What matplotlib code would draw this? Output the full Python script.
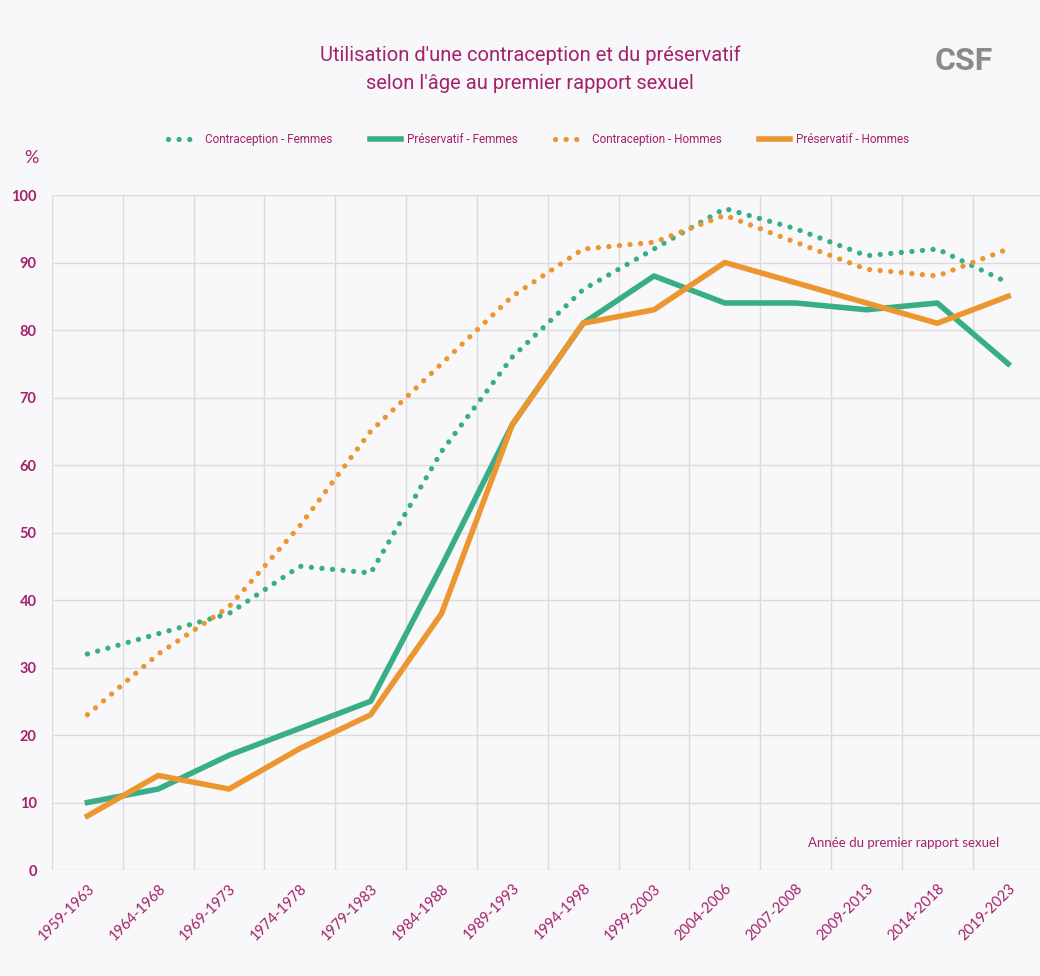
import numpy as np
import matplotlib.pyplot as plt

periods = ["1959-1963", "1964-1968", "1969-1973", "1974-1978", "1979-1983",
           "1984-1988", "1989-1993", "1994-1998", "1999-2003", "2004-2006",
           "2007-2008", "2009-2013", "2014-2018", "2019-2023"]
contra_femmes = [32, 35, 38, 45, 44, 62, 76, 86, 92, 98, 95, 91, 92, 87]
preserv_femmes = [10, 12, 17, 21, 25, 45, 66, 81, 88, 84, 84, 83, 84, 75]
contra_hommes = [23, 32, 39, 51, 65, 75, 85, 92, 93, 97, 93, 89, 88, 92]
preserv_hommes = [8, 14, 12, 18, 23, 38, 66, 81, 83, 90, 87, 84, 81, 85]

green = "#38ae86"
orange = "#ec9630"
magenta = "#a3226b"
bg = "#f8f7fa"
narrow = ["Roboto", "DejaVu Sans"]
body = ["Lato", "DejaVu Sans"]

fig = plt.figure(figsize=(10.4, 9.76), dpi=100, facecolor=bg)
ax = fig.add_axes([0.05, 0.1086, 0.9534, 0.6916])
ax.set_facecolor(bg)

x = np.arange(len(periods))
dots = (0, (0.01, 2.0))
ax.plot(x, contra_femmes, linestyle=dots, lw=3.8, color=green,
        dash_capstyle="round", label="Contraception - Femmes")
ax.plot(x, preserv_femmes, "-", lw=4, color=green, label="Préservatif - Femmes")
ax.plot(x, contra_hommes, linestyle=dots, lw=3.8, color=orange,
        dash_capstyle="round", label="Contraception - Hommes")
ax.plot(x, preserv_hommes, "-", lw=4, color=orange, label="Préservatif - Hommes")

ax.set_xlim(-0.5, len(periods) - 0.5)
ax.set_ylim(0, 100)
ax.set_yticks(np.arange(0, 101, 10))
ax.set_xticks(x)
ax.set_xticks(np.arange(-0.5, len(periods), 1), minor=True)
ax.set_xticklabels(periods, rotation=45, ha="right", rotation_mode="anchor",
                   fontsize=10.5, color=magenta, family=body)
for t in ax.get_yticklabels():
    t.set_fontsize(10.5)
    t.set_fontweight("bold")
    t.set_color(magenta)
    t.set_family(body)
ax.tick_params(axis="both", which="both", length=0)
ax.tick_params(axis="y", pad=11)
ax.tick_params(axis="x", pad=8)
ax.grid(True, axis="y", which="major", color="#dcdadf", lw=1)
ax.grid(True, axis="x", which="minor", color="#dcdadf", lw=1)
for s in ax.spines.values():
    s.set_visible(False)
ax.set_axisbelow(True)

leg = fig.legend(loc="center", bbox_to_anchor=(0.518, 0.857), ncol=4, frameon=False,
                 handlelength=2.6, columnspacing=3.2, handletextpad=0.5,
                 prop={"family": narrow, "size": 8.5})
for t in leg.get_texts():
    t.set_color(magenta)

fig.text(0.51, 0.929, "Utilisation d'une contraception et du préservatif\nselon l'âge au premier rapport sexuel",
         ha="center", va="center", color=magenta, fontsize=14.5, linespacing=1.55,
         family=narrow)
fig.text(0.927, 0.937, "CSF", ha="center", va="center", color="#8a8a8a",
         fontsize=23, fontweight="bold", family=narrow)
fig.text(0.023, 0.838, "%", ha="left", va="center", color=magenta, fontsize=13,
         family=body)
ax.text(0.955, 0.04, "Année du premier rapport sexuel", transform=ax.transAxes,
        ha="right", va="center", color=magenta, fontsize=9.5, family=body)

fig.savefig("out.png", dpi=100, facecolor=bg)
